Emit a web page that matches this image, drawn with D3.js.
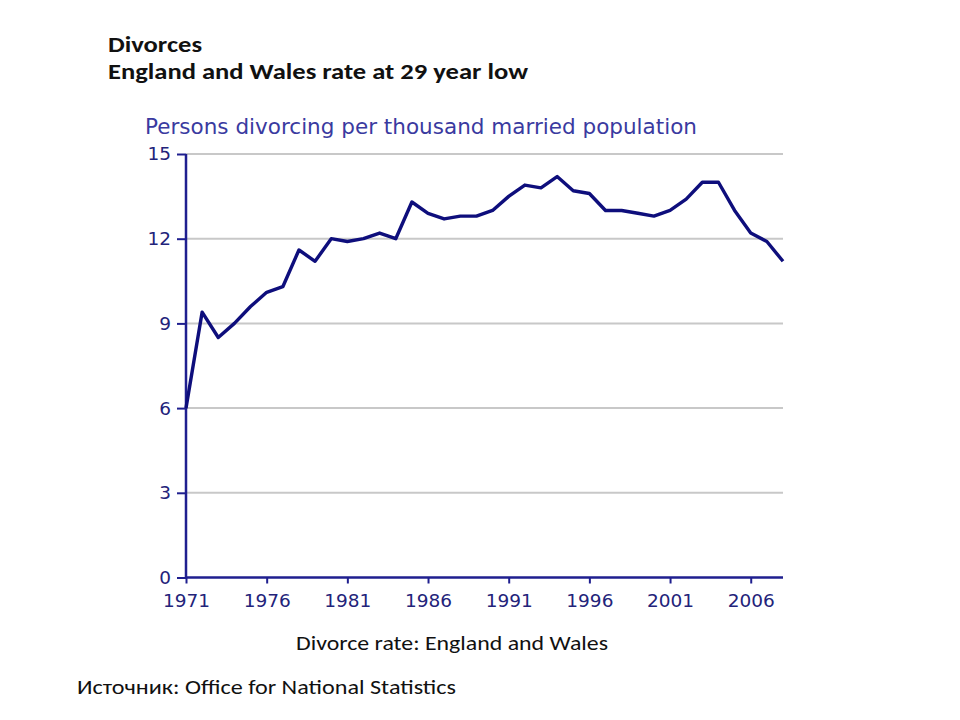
<!DOCTYPE html>
<html>
<head>
<meta charset="utf-8">
<script src="https://cdn.jsdelivr.net/npm/d3@7"></script>
<style>
  body { margin: 0; background: #fff; }
  svg text { font-family: "DejaVu Sans", Verdana, sans-serif; }
  svg text.slide { font-family: Carlito, "Open Sans", Lato, sans-serif; fill: #111; }
</style>
</head>
<body>
<div id="chart"></div>
<script>
// Divorce rate, England and Wales (persons divorcing per 1000 married population)
const years = [1971, 1972, 1973, 1974, 1975, 1976, 1977, 1978, 1979, 1980,
               1981, 1982, 1983, 1984, 1985, 1986, 1987, 1988, 1989, 1990,
               1991, 1992, 1993, 1994, 1995, 1996, 1997, 1998, 1999, 2000,
               2001, 2002, 2003, 2004, 2005, 2006, 2007, 2008];
const rates = [6.0, 9.4, 8.5, 9.0, 9.6, 10.1, 10.3, 11.6, 11.2, 12.0,
               11.9, 12.0, 12.2, 12.0, 13.3, 12.9, 12.7, 12.8, 12.8, 13.0,
               13.5, 13.9, 13.8, 14.2, 13.7, 13.6, 13.0, 13.0, 12.9, 12.8,
               13.0, 13.4, 14.0, 14.0, 13.0, 12.2, 11.9, 11.2];
const yTicks = [0, 3, 6, 9, 12, 15];
const xTicks = [1971, 1976, 1981, 1986, 1991, 1996, 2001, 2006];

const width = 960, height = 720;
const svg = d3.select("#chart").append("svg")
    .attr("width", width)
    .attr("height", height);

const x = d3.scaleLinear().domain([1971, 2008]).range([186, 783]);
const y = d3.scaleLinear().domain([0, 15]).range([577.5, 154]);

// gridlines
svg.append("g")
    .selectAll("line")
    .data(yTicks.filter(d => d > 0))
    .enter().append("line")
    .attr("x1", x(1971))
    .attr("x2", x(2008))
    .attr("y1", d => y(d))
    .attr("y2", d => y(d))
    .attr("stroke", "#c8c8c8")
    .attr("stroke-width", 2);

// axes
const axisColor = "#1f1f8f";
const yAxis = svg.append("g")
    .attr("transform", `translate(${x(1971)},0)`)
    .call(d3.axisLeft(y).tickValues(yTicks).tickSize(9).tickPadding(6));
const xAxis = svg.append("g")
    .attr("transform", `translate(0,${y(0)})`)
    .call(d3.axisBottom(x).tickValues(xTicks).tickFormat(d3.format("d")).tickSize(6).tickPadding(10));

[yAxis, xAxis].forEach(a => {
    a.select(".domain").attr("stroke", axisColor).attr("stroke-width", 2.5);
    a.selectAll(".tick line").attr("stroke", axisColor).attr("stroke-width", 2);
    a.selectAll(".tick text")
        .attr("fill", "#23237a")
        .style("font-size", "18.5px");
});
xAxis.select(".domain").attr("d", `M${x(1971)},0H${x(2008)}`);
yAxis.select(".domain").attr("d", `M0,${y(15)}V${y(0)}`);

// line
const line = d3.line()
    .x((d, i) => x(years[i]))
    .y(d => y(d));

svg.append("path")
    .datum(rates)
    .attr("fill", "none")
    .attr("stroke", "#0e0e7c")
    .attr("stroke-width", 3.4)
    .attr("stroke-linejoin", "round")
    .attr("d", line);

// chart title
svg.append("text")
    .attr("x", 145)
    .attr("y", 134)
    .attr("fill", "#3a3aa0")
    .attr("textLength", 552)
    .attr("lengthAdjust", "spacingAndGlyphs")
    .style("font-size", "21px")
    .text("Persons divorcing per thousand married population");

// slide texts
function slideText(str, xPos, yPos, size, w, bold) {
    return svg.append("text").attr("class", "slide")
        .attr("x", xPos).attr("y", yPos)
        .attr("textLength", w)
        .attr("lengthAdjust", "spacingAndGlyphs")
        .style("font-size", size + "px")
        .style("font-weight", bold ? "bold" : "normal")
        .text(str);
}
slideText("Divorces", 108, 52, 22.5, 94, true);
slideText("England and Wales rate at 29 year low", 108, 79, 22.5, 420, true);
slideText("Divorce rate: England and Wales", 296, 650, 21, 312, false);
slideText("Источник: Office for National Statistics", 77, 694, 21, 379, false);
</script>
</body>
</html>
